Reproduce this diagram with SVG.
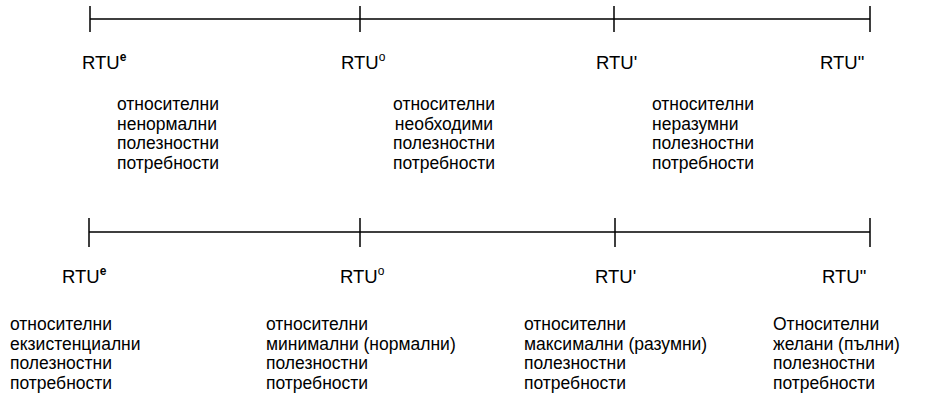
<svg xmlns="http://www.w3.org/2000/svg" width="928" height="405" viewBox="0 0 928 405">
<style>
  .ln { stroke: #000; stroke-width: 1.5; fill: none; }
  .lbl { font-family: "Liberation Sans", Arial, sans-serif; font-size: 18.5px; fill: #000; }
  .txt { font-family: "Liberation Sans", Arial, sans-serif; font-size: 17.5px; fill: #000; }
  .sup { font-size: 12px; }
  .b { font-weight: bold; }
</style>
<rect width="928" height="405" fill="#fff"/>
<g id="connectors">
  <path class="ln" d="M90 19H870M90 6V32M360 6V32M614 6V32M870 6V32"/>
  <path class="ln" d="M89 232H870M89 218V247M360 218V247M615 218V247M870 218V247"/>
</g>
<g id="top-labels" class="lbl">
  <text id="t-rtue" x="82" y="69">RTU<tspan class="sup b" dy="-8">e</tspan></text>
  <text id="t-rtuo" x="341" y="69">RTU<tspan class="sup" dy="-8">o</tspan></text>
  <text id="t-rtu1" x="596" y="69">RTU'</text>
  <text id="t-rtu2" x="820" y="69">RTU"</text>
</g>
<g id="top-text" class="txt">
  <text id="m1" y="110"><tspan x="117">относителни</tspan><tspan x="117" dy="19.5">ненормални</tspan><tspan x="117" dy="19.5">полезностни</tspan><tspan x="117" dy="19.5">потребности</tspan></text>
  <text id="m2" y="110" text-anchor="middle"><tspan x="444">относителни</tspan><tspan x="444" dy="19.5">необходими</tspan><tspan x="444" dy="19.5">полезностни</tspan><tspan x="444" dy="19.5">потребности</tspan></text>
  <text id="m3" y="110"><tspan x="652">относителни</tspan><tspan x="652" dy="19.5">неразумни</tspan><tspan x="652" dy="19.5">полезностни</tspan><tspan x="652" dy="19.5">потребности</tspan></text>
</g>
<g id="bottom-labels" class="lbl">
  <text id="b-rtue" x="62" y="283">RTU<tspan class="sup b" dy="-8">e</tspan></text>
  <text id="b-rtuo" x="340" y="283">RTU<tspan class="sup" dy="-8">o</tspan></text>
  <text id="b-rtu1" x="595" y="283">RTU'</text>
  <text id="b-rtu2" x="822" y="283">RTU"</text>
</g>
<g id="bottom-text" class="txt">
  <text id="c1" y="330"><tspan x="10">относителни</tspan><tspan x="10" dy="19.5">екзистенциални</tspan><tspan x="10" dy="19.5">полезностни</tspan><tspan x="10" dy="19.5">потребности</tspan></text>
  <text id="c2" y="330"><tspan x="266">относителни</tspan><tspan x="266" dy="19.5">минимални (нормални)</tspan><tspan x="266" dy="19.5">полезностни</tspan><tspan x="266" dy="19.5">потребности</tspan></text>
  <text id="c3" y="330"><tspan x="524">относителни</tspan><tspan x="524" dy="19.5">максимални (разумни)</tspan><tspan x="524" dy="19.5">полезностни</tspan><tspan x="524" dy="19.5">потребности</tspan></text>
  <text id="c4" y="330"><tspan x="773">Относителни</tspan><tspan x="773" dy="19.5">желани (пълни)</tspan><tspan x="773" dy="19.5">полезностни</tspan><tspan x="773" dy="19.5">потребности</tspan></text>
</g>
</svg>
